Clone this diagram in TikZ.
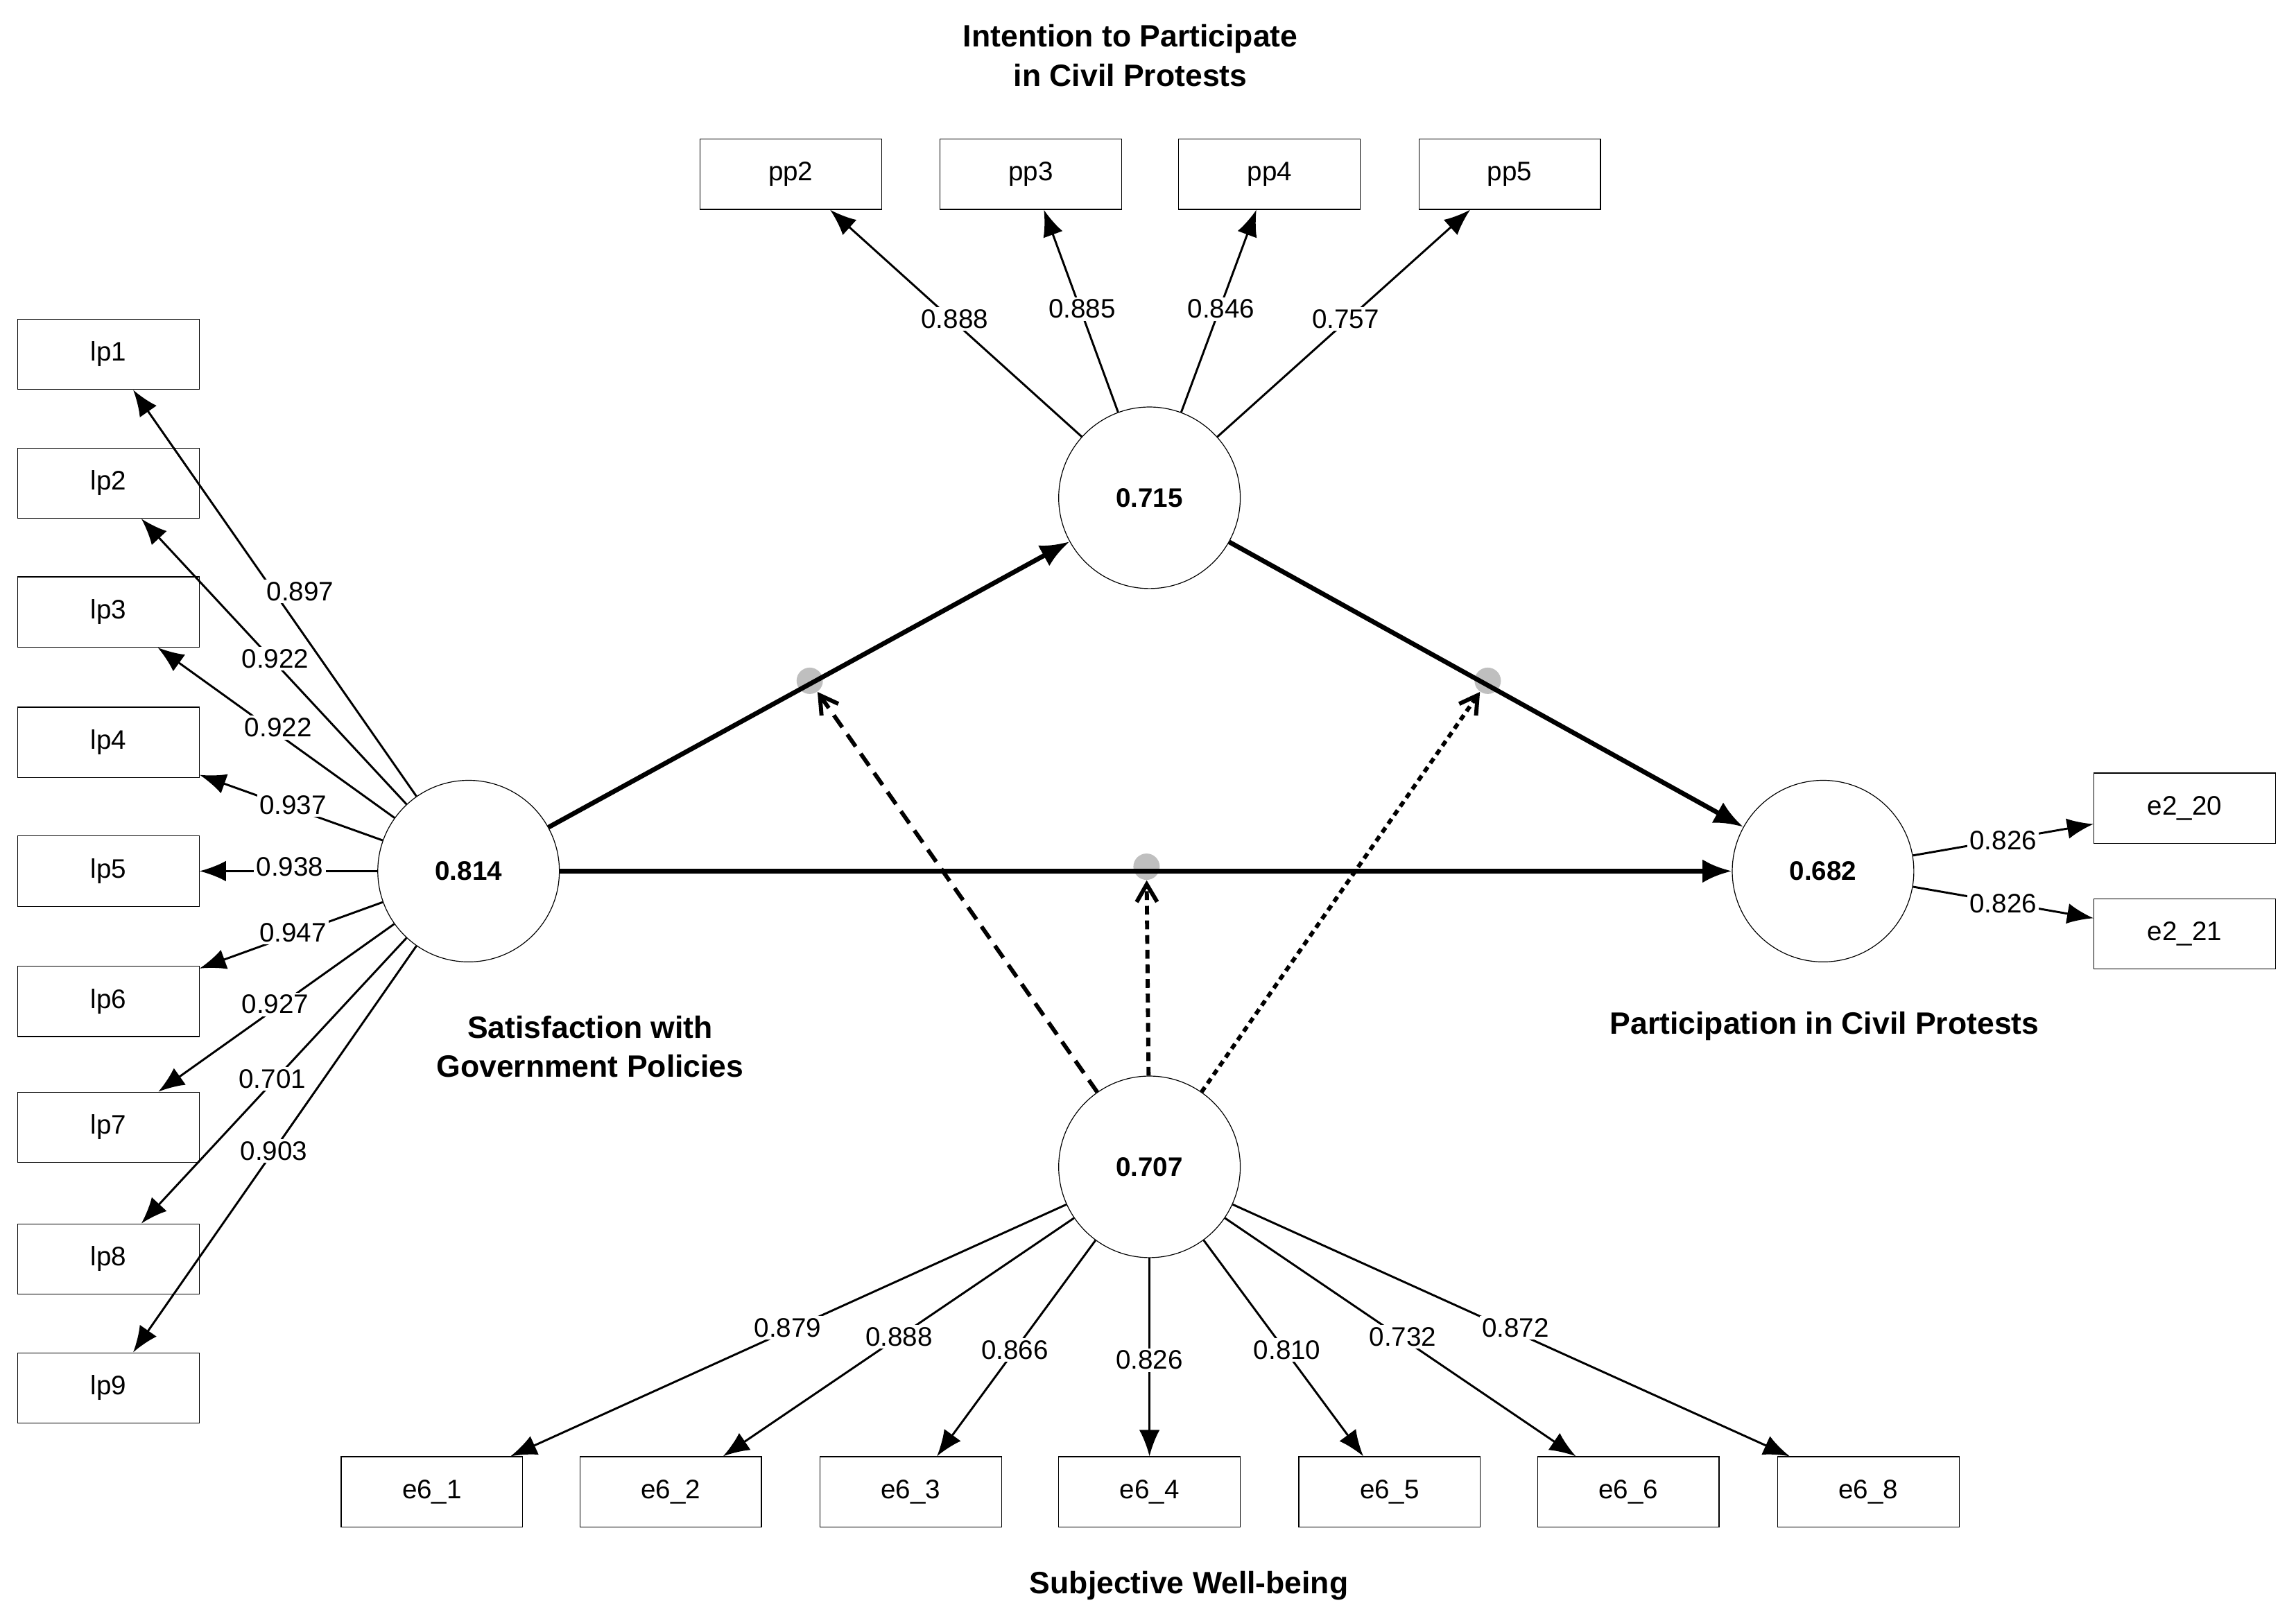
\documentclass[tikz,border=0pt]{standalone}
\usepackage{fontspec}
\setmainfont{Liberation Sans}
\usetikzlibrary{arrows.meta}
\begin{document}
\begin{tikzpicture}
[x=0.25mm, y=-0.25mm,
box/.style={rectangle, draw=black, minimum width=31mm, minimum height=12mm, font=\fontsize{13}{15}\selectfont},
lv/.style={circle, draw=black, minimum size=31mm, font=\bfseries\fontsize{13}{15}\selectfont},
lbl/.style={fill=white, inner sep=.4mm, font=\fontsize{13}{15}\selectfont},
ttl/.style={align=center, font=\bfseries\fontsize{15}{19}\selectfont},
dot/.style={circle, fill=gray!50, inner sep=0pt, minimum size=4.5mm},
load/.style={-{Latex[length=4.5mm,width=3.5mm]}, line width=.35mm},
path/.style={-{Latex[length=5mm,width=4mm]}, line width=.8mm},
mod/.style={-{Straight Barb[length=3mm,width=3.5mm]}, line width=.7mm}]
\useasboundingbox (0,0) rectangle (1568,1107);

% latent variables
\node[lv] (sgp) at (320,595) {0.814};
\node[lv] (ipc) at (785,340) {0.715};
\node[lv] (pcp) at (1245,595) {0.682};
\node[lv] (swb) at (785,797) {0.707};

% moderation points
\node[dot] (m1) at (553,465) {};
\node[dot] (m2) at (1016,465) {};
\node[dot] (m3) at (783,592) {};

% structural paths
\draw[path] (sgp) -- (ipc);
\draw[path] (ipc) -- (pcp);
\draw[path] (sgp) -- (pcp);
\draw[mod, dash pattern=on 2.5mm off 1.5mm] (swb) -- (m1);
\draw[mod, dash pattern=on 1mm off .8mm] (swb) -- (m2);
\draw[mod, dash pattern=on 1.5mm off 1mm] (swb) -- (m3);

% satisfaction indicators
\foreach \i/\y/\v/\lx/\ly in {1/242/0.897/205/404, 2/330/0.922/188/450, 3/418/0.922/190/497,
  4/507/0.937/200/550, 5/595/0.938/198/592, 6/684/0.947/200/637,
  7/770/0.927/188/686, 8/860/0.701/186/737, 9/948/0.903/187/786}{
  \node[box] (lp\i) at (74,\y) {lp\i};
  \draw[load] (sgp) -- (lp\i);
  \node[lbl] (llp\i) at (\lx,\ly) {\v};
}

% intention indicators
\foreach \i/\x/\v/\lx/\ly in {2/540/0.888/652/218, 3/704/0.885/739/211,
  4/867/0.846/834/211, 5/1031/0.757/919/218}{
  \node[box] (pp\i) at (\x,119) {pp\i};
  \draw[load] (ipc) -- (pp\i);
  \node[lbl] (lpp\i) at (\lx,\ly) {\v};
}

% well-being indicators
\foreach \i/\x/\v/\lx/\ly in {1/295/0.879/538/907, 2/458/0.888/614/913, 3/622/0.866/693/922,
  4/785/0.826/785/929, 5/949/0.810/879/922, 6/1112/0.732/958/913, 8/1276/0.872/1035/907}{
  \node[box] (e6\i) at (\x,1019) {e6\_\i};
  \draw[load] (swb) -- (e6\i);
  \node[lbl] (le6\i) at (\lx,\ly) {\v};
}

% participation indicators
\foreach \i/\y/\ly in {20/552/574, 21/638/617}{
  \node[box] (e2\i) at (1492,\y) {e2\_\i};
  \draw[load] (pcp) -- (e2\i);
  \node[lbl] (le2\i) at (1368,\ly) {0.826};
}

% titles
\node[ttl] (tipc) at (772,38) {Intention to Participate\\in Civil Protests};
\node[ttl] (tsgp) at (403,715) {Satisfaction with\\Government Policies};
\node[ttl] (tpcp) at (1246,701) {Participation in Civil Protests};
\node[ttl] (tswb) at (812,1083) {Subjective Well-being};
\end{tikzpicture}
\end{document}
